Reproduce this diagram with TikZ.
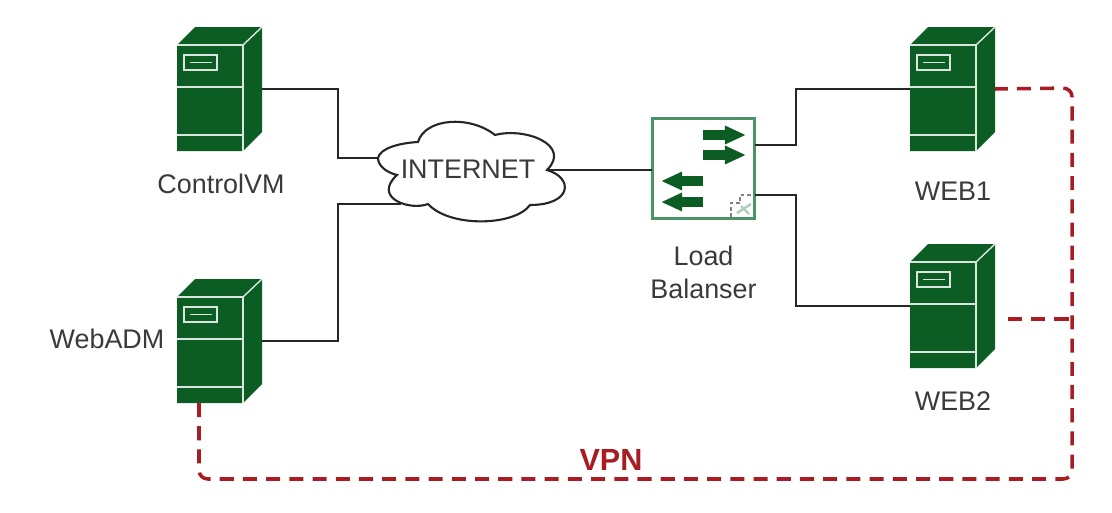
\documentclass[tikz,border=0pt]{standalone}
\usepackage{fontspec}
\setmainfont{Liberation Sans}
\usetikzlibrary{arrows.meta}
\definecolor{SrvGreen}{HTML}{0B5D24}
\definecolor{LbGreen}{HTML}{4A9467}
\definecolor{VpnRed}{HTML}{A81C22}
\definecolor{TxtGray}{HTML}{3A3A3A}
\tikzset{
    link/.style = {draw=black!85, line width=.55pt},
    vpn/.style = {draw=VpnRed, line width=1pt, dash pattern=on 4pt off 2.6pt},
    label/.style = {text=TxtGray, font=\fontsize{7.65}{9.4}\selectfont, align=center, inner sep=0pt},
    lbbox/.style = {draw=LbGreen, fill=white, line width=.85pt, minimum width=1.02cm, minimum height=1cm, inner sep=0pt},
    lbarrow/.style = {draw=SrvGreen, line width=2.7pt, -{Triangle[length=6pt,width=4.9pt]}},
    srvline/.style = {draw=white!85!SrvGreen, line width=.4pt},
    server/.pic = {
        \fill[SrvGreen] (0,18) -- (18,0) -- (85,0) -- (85,105) -- (66,124) -- (0,124) -- cycle;
        \draw[srvline] (0,18) -- (66,18) -- (66,124);
        \draw[srvline] (66,18) -- (85,0);
        \draw[srvline] (0,60) -- (66,60);
        \draw[srvline] (0,108) -- (66,108);
        \draw[srvline] (7,28) rectangle (40,43);
        \draw[srvline] (13,35.5) -- (35,35.5);
        \coordinate (-e) at (85,62);
        \coordinate (-w) at (0,62);
        \coordinate (-s) at (22,124);
    }
}
\begin{document}
\begin{tikzpicture}[x=.01cm,y=-.01cm]
\useasboundingbox (0,0) rectangle (1112,512);
% servers
\pic (ctrl) at (177,27) {server};
\pic (adm) at (177,279) {server};
\pic (webone) at (910,27) {server};
\pic (webtwo) at (910,244) {server};
% cloud
\draw[line width=.6pt,black!85,fill=white]
    (378,158) coordinate (cloudw) .. controls (380,148) and (400,143) .. (418,142)
    .. controls (425,118) and (470,115) .. (495,135)
    .. controls (525,127) and (572,145) .. (547,170) coordinate (cloude)
    .. controls (574,178) and (572,205) .. (530,205)
    .. controls (515,226) and (450,228) .. (428,204)
    .. controls (410,211) and (372,198) .. (397,175)
    .. controls (385,172) and (378,165) .. (378,158) -- cycle;
\coordinate (cloudsw) at (401,204);
\node[label] (inet) at (468,169) {INTERNET};
% load balancer
\node[lbbox] (lb) at (703.5,168.5) {};
\foreach \yy in {135,155}
    \draw[lbarrow] (703,\yy) -- (746,\yy);
\foreach \yy in {181,202}
    \draw[lbarrow] (703,\yy) -- (661,\yy);
\draw[gray,line width=.8pt,dash pattern=on 1pt off .8pt] (731,217) -- (731,203) -- (740,203) -- (740,195) -- (752,195);
\draw[LbGreen!45,line width=.7pt] (737,213) -- (751,204) (741,206) -- (749,214);
% connectors
\coordinate (lbw) at (652,170);
\coordinate (lbn) at (755,145);
\coordinate (lbs) at (755,195);
\draw[link] (ctrl-e) -- (338,89) -- (338,158) -- (cloudw);
\draw[link] (adm-e) -- (338,341) -- (338,204) -- (cloudsw);
\draw[link] (cloude) -- (lbw);
\draw[link] (lbn) -- (796,145) -- (796,89) -- (webone-w);
\draw[link] (lbs) -- (796,195) -- (796,306) -- (webtwo-w);
% vpn
\coordinate (vpnc) at (1072,319);
\coordinate (vpnd) at (1008,319);
\draw[vpn,rounded corners=2.5pt] (adm-s) -- (199,479) -- (1072,479) -- (1072,88) -- (webone-e);
\draw[vpn] (vpnd) -- (vpnc);
% labels
\node[label] (ctrllbl) at (221,184) {ControlVM};
\node[label] (admlbl) at (107,339) {WebADM};
\node[label] (weboneLbl) at (953,191) {WEB1};
\node[label] (webtwoLbl) at (953,401) {WEB2};
\node[label] (lblbl) at (703.5,272) {Load\\Balanser};
\node[text=VpnRed,font=\fontsize{8.7}{10}\selectfont\bfseries,inner sep=0pt] (vpnlbl) at (611,460) {VPN};
\end{tikzpicture}
\end{document}
